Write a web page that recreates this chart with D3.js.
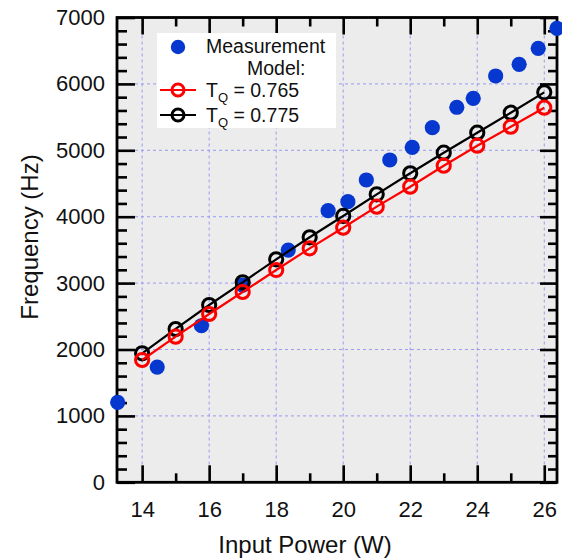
<!DOCTYPE html>
<html>
<head>
<meta charset="utf-8">
<script src="https://cdn.jsdelivr.net/npm/d3@7"></script>
<style>
  body { margin: 0; background: #fff; }
  svg text { font-family: "Liberation Sans", Arial, sans-serif; fill: #111; }
</style>
</head>
<body>
<svg id="chart" width="562" height="558"></svg>
<script>
// measurement points (input power W, frequency Hz)
const measPower = [13.27, 14.45, 15.77, 17.0, 18.36, 19.55, 20.14, 20.69, 21.39, 22.06, 22.66, 23.39, 23.88, 24.55, 25.25, 25.82, 26.38]
const measFreq = [1205, 1736, 2358, 2971, 3498, 4090, 4226, 4553, 4854, 5045, 5340, 5648, 5783, 6119, 6295, 6536, 6837]

// model curves
const modelPower = [14, 15, 16, 17, 18, 19, 20, 21, 22, 23, 24, 25, 26]
const model765 = [1842, 2193, 2535, 2866, 3197, 3524, 3834, 4151, 4452, 4768, 5069, 5355, 5642]
const model775 = [1943, 2309, 2670, 3012, 3358, 3690, 4011, 4337, 4654, 4964, 5265, 5566, 5873]

const xTicks = [14, 16, 18, 20, 22, 24, 26]
const xMinor = [15, 17, 19, 21, 23, 25]
const yTicks = [0, 1000, 2000, 3000, 4000, 5000, 6000, 7000]
const yMinor = d3.range(200, 7000, 200).filter(v => v % 1000 !== 0)

const plotL = 117, plotR = 557, plotT = 17.5, plotB = 482.3

const svg = d3.select("#chart")
const x = d3.scaleLinear().domain([13.25, 26.38]).range([plotL, plotR])
const y = d3.scaleLinear().domain([0, 7000]).range([plotB, plotT])

// plot background
svg.append("rect")
    .attr("x", plotL).attr("y", plotT)
    .attr("width", plotR - plotL).attr("height", plotB - plotT)
    .attr("fill", "#ececec")

// dashed grid
const grid = svg.append("g")
    .attr("stroke", "#9a9af0")
    .attr("stroke-width", 1)
    .attr("stroke-dasharray", "3,3")
grid.selectAll("line.gx")
    .data(xTicks)
    .join("line")
    .attr("class", "gx")
    .attr("x1", d => x(d)).attr("x2", d => x(d))
    .attr("y1", plotT).attr("y2", plotB)
grid.selectAll("line.gy")
    .data(yTicks.filter(d => d > 0 && d < 7000))
    .join("line")
    .attr("class", "gy")
    .attr("x1", plotL).attr("x2", plotR)
    .attr("y1", d => y(d)).attr("y2", d => y(d))

// axes with inward ticks on all four sides
function styleAxis(g) {
    g.select(".domain").remove()
    g.selectAll(".tick line").attr("stroke", "#000").attr("stroke-width", 2.6)
    g.selectAll("text").attr("font-size", 22).attr("fill", "#111")
}
svg.append("g").attr("transform", `translate(0,${plotB})`)
    .call(d3.axisBottom(x).tickValues(xTicks).tickFormat(d3.format("d")).tickSizeInner(-17).tickSizeOuter(0).tickPadding(19))
    .call(styleAxis)
svg.append("g").attr("transform", `translate(0,${plotB})`)
    .call(d3.axisBottom(x).tickValues(xMinor).tickFormat("").tickSizeInner(-9).tickSizeOuter(0))
    .call(styleAxis)
svg.append("g").attr("transform", `translate(0,${plotT})`)
    .call(d3.axisTop(x).tickValues(xTicks).tickFormat("").tickSizeInner(-17).tickSizeOuter(0))
    .call(styleAxis)
svg.append("g").attr("transform", `translate(0,${plotT})`)
    .call(d3.axisTop(x).tickValues(xMinor).tickFormat("").tickSizeInner(-9).tickSizeOuter(0))
    .call(styleAxis)
svg.append("g").attr("transform", `translate(${plotL},0)`)
    .call(d3.axisLeft(y).tickValues(yTicks).tickFormat(d3.format("d")).tickSizeInner(-18).tickSizeOuter(0).tickPadding(12))
    .call(styleAxis)
svg.append("g").attr("transform", `translate(${plotL},0)`)
    .call(d3.axisLeft(y).tickValues(yMinor).tickFormat("").tickSizeInner(-10).tickSizeOuter(0))
    .call(styleAxis)
svg.append("g").attr("transform", `translate(${plotR},0)`)
    .call(d3.axisRight(y).tickValues(yTicks).tickFormat("").tickSizeInner(-17).tickSizeOuter(0))
    .call(styleAxis)
svg.append("g").attr("transform", `translate(${plotR},0)`)
    .call(d3.axisRight(y).tickValues(yMinor).tickFormat("").tickSizeInner(-9).tickSizeOuter(0))
    .call(styleAxis)

// frame
svg.append("rect")
    .attr("x", plotL).attr("y", plotT)
    .attr("width", plotR - plotL).attr("height", plotB - plotT)
    .attr("fill", "none").attr("stroke", "#000").attr("stroke-width", 2.8)

// measurement dots
svg.append("g").selectAll("circle")
    .data(measPower.map((p, i) => [p, measFreq[i]]))
    .join("circle")
    .attr("cx", d => x(d[0])).attr("cy", d => y(d[1]))
    .attr("r", 7.6)
    .attr("fill", "#0637cf")

// model curves, black first so red sits on top
const models = [
    { vals: model775, colour: "#000" },
    { vals: model765, colour: "#f00" }
]
const line = d3.line().x(d => x(d[0])).y(d => y(d[1]))
models.forEach(m => {
    const pts = modelPower.map((p, i) => [p, m.vals[i]])
    const g = svg.append("g")
    g.append("path")
        .attr("d", line(pts))
        .attr("fill", "none")
        .attr("stroke", m.colour)
        .attr("stroke-width", 2.2)
    g.selectAll("circle")
        .data(pts)
        .join("circle")
        .attr("cx", d => x(d[0])).attr("cy", d => y(d[1]))
        .attr("r", 6.6)
        .attr("fill", "none")
        .attr("stroke", m.colour)
        .attr("stroke-width", 3)
})

// legend
const lg = svg.append("g")
lg.append("rect")
    .attr("x", 157).attr("y", 33).attr("width", 179).attr("height", 95)
    .attr("fill", "#fff")
lg.append("circle").attr("cx", 178).attr("cy", 47).attr("r", 7.2).attr("fill", "#0637cf")
lg.append("text").attr("x", 206).attr("y", 53).attr("font-size", 19.5).text("Measurement")
lg.append("text").attr("x", 247).attr("y", 75).attr("font-size", 19.5).text("Model:")
const legRows = [
    { colour: "#f00", label: "0.765", yy: 90 },
    { colour: "#000", label: "0.775", yy: 115 }
]
legRows.forEach(r => {
    lg.append("line")
        .attr("x1", 160).attr("x2", 196).attr("y1", r.yy).attr("y2", r.yy)
        .attr("stroke", r.colour).attr("stroke-width", 2.2)
    lg.append("circle")
        .attr("cx", 178).attr("cy", r.yy).attr("r", 6)
        .attr("fill", "none").attr("stroke", r.colour).attr("stroke-width", 3)
    const t = lg.append("text").attr("x", 206).attr("y", r.yy + 7).attr("font-size", 19.5)
    t.append("tspan").text("T")
    t.append("tspan").attr("font-size", 13).attr("dy", 5).text("Q")
    t.append("tspan").attr("dy", -5).text(" = " + r.label)
})

// axis titles
svg.append("text")
    .attr("x", 305).attr("y", 553)
    .attr("text-anchor", "middle")
    .attr("font-size", 24)
    .text("Input Power (W)")
svg.append("text")
    .attr("transform", "translate(38,237) rotate(-90)")
    .attr("text-anchor", "middle")
    .attr("font-size", 24)
    .text("Frequency (Hz)")
</script>
</body>
</html>
